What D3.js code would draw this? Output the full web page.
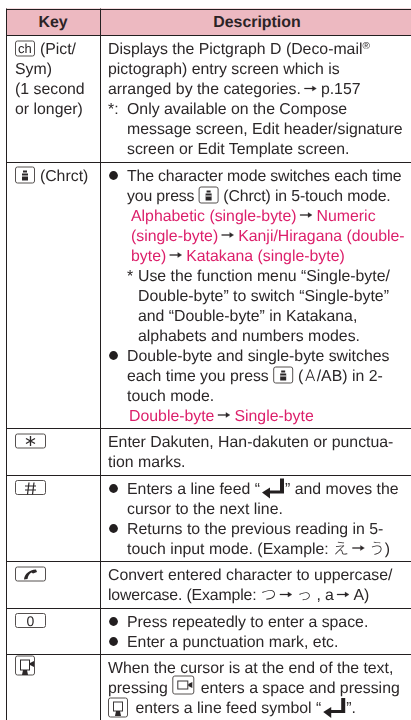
<!DOCTYPE html>
<html>
<head>
<meta charset="utf-8">
<title>Key table</title>
<script src="https://cdn.jsdelivr.net/npm/d3@7"></script>
<style>
    html, body { margin: 0; padding: 0; background: #fff; }
    svg { display: block; filter: blur(0.3px); }
    text { font-family: "Liberation Sans", Arial, sans-serif; font-size: 15.85px; fill: #2b2728; text-rendering: geometricPrecision; }
    .head { font-weight: bold; font-size: 15.9px; text-anchor: middle; fill: #2b2326; }
    .pink text { fill: #dc1f6a; }
    .tight text { letter-spacing: -0.15px; }
    .cjk { font-family: "Noto Sans CJK JP"; font-weight: 300; }
    .thin { font-family: Roboto; font-weight: 300; font-size: 16.5px; }
</style>
</head>
<body>
<div id="table"></div>
<script>
const headers = ['Key', 'Description'];

const keyLines = [
    ['{ch} (Pict/', 'Sym)', '(1 second', 'or longer)'],
    ['{soft} (Chrct)'],
    ['{star}'],
    ['{hash}'],
    ['{phone}'],
    ['{zero}'],
    ['{dpad}']
];

// each line is [kind, text]; the kind decides indent and colour
const descLines = [
    [
        ['plain', 'Displays the Pictgraph D (Deco-mail{reg}'],
        ['plain', 'pictograph) entry screen which is'],
        ['plain', 'arranged by the categories.{arrow}p.157'],
        ['star', 'Only available on the Compose'],
        ['cont', 'message screen, Edit header/signature'],
        ['cont', 'screen or Edit Template screen.']
    ],
    [
        ['bulletTight', 'The character mode switches each time'],
        ['contTight', 'you press {soft} (Chrct) in 5-touch mode.'],
        ['pink', 'Alphabetic (single-byte){arrow}Numeric'],
        ['pink', '(single-byte){arrow}Kanji/Hiragana (double-'],
        ['pink', 'byte){arrow}Katakana (single-byte)'],
        ['note', 'Use the function menu “Single-byte/'],
        ['noteCont', 'Double-byte” to switch “Single-byte”'],
        ['noteCont', 'and “Double-byte” in Katakana,'],
        ['noteCont', 'alphabets and numbers modes.'],
        ['bullet', 'Double-byte and single-byte switches'],
        ['cont', 'each time you press {soft} ({thinA}/AB) in 2-'],
        ['cont', 'touch mode.'],
        ['pink2', 'Double-byte{arrow}Single-byte']
    ],
    [
        ['plain', 'Enter Dakuten, Han-dakuten or punctua-'],
        ['plain', 'tion marks.']
    ],
    [
        ['bullet', 'Enters a line feed “{enter}” and moves the'],
        ['cont', 'cursor to the next line.'],
        ['bullet', 'Returns to the previous reading in 5-'],
        ['cont', 'touch input mode. (Example: {e}{arrow}{u})']
    ],
    [
        ['plain', 'Convert entered character to uppercase/'],
        ['plainTight', 'lowercase. (Example: {tsu}{arrow}{ltsu} , a{arrow}A)']
    ],
    [
        ['bullet', 'Press repeatedly to enter a space.'],
        ['bullet', 'Enter a punctuation mark, etc.']
    ],
    [
        ['plain', 'When the cursor is at the end of the text,'],
        ['plain', 'pressing {dright} enters a space and pressing'],
        ['plain', '{ddown} enters a line feed symbol “{enter}”.']
    ]
];

const width = 411;
const height = 720;
const lineStep = 20;
const headTop = 8.5;
const headHeight = 26.5;
const rowPad = 6.5;
const ink = '#2b2728';
const keyX = 15;
const descX = 108;

const kindStyle = {
    plain: { x: descX },
    plainTight: { x: descX, cls: 'tight' },
    cont: { x: 127 },
    contTight: { x: 127, cls: 'tight' },
    bullet: { x: 127, mark: 'dot' },
    bulletTight: { x: 127, mark: 'dot', cls: 'tight' },
    star: { x: 127, mark: '*:' },
    note: { x: 138, mark: '*' },
    noteCont: { x: 138 },
    pink: { x: 131, cls: 'pink' },
    pink2: { x: 129, cls: 'pink' }
};

const svg = d3.select('#table')
    .append('svg')
    .attr('width', width)
    .attr('height', height)
    .attr('viewBox', `0 0 ${width} ${height}`);

// Row tops follow from how many lines each row holds
let rowTop = headTop + headHeight;
const rows = descLines.map((lines, i) => {
    const row = { top: rowTop, key: keyLines[i], desc: lines };
    rowTop += lines.length * lineStep + rowPad;
    return row;
});

// Header band and labels
svg.append('rect')
    .attr('x', 6).attr('y', headTop)
    .attr('width', width - 6).attr('height', headHeight)
    .attr('fill', '#edb9c1');

svg.selectAll('.head')
    .data(headers)
    .join('text')
    .attr('class', 'head')
    .attr('x', (d, i) => i === 0 ? 53 : 257)
    .attr('y', 27)
    .text(d => d);

// Small drawn glyphs used inside text lines
function keyBox(g, w, top, bottom) {
    g.append('rect')
        .attr('x', 0.5).attr('y', top)
        .attr('width', w - 1).attr('height', bottom - top)
        .attr('rx', 2)
        .attr('fill', '#fff')
        .attr('stroke', '#55504f')
        .attr('stroke-width', 1);
}

function wideKey(g) {
    keyBox(g, 31, -13, 1);
}

const icons = {
    ch(g) {
        keyBox(g, 20, -13, 2);
        g.append('text').attr('x', 3).attr('y', -1)
            .style('font-size', '13px').text('ch');
        return 20.5;
    },
    soft(g) {
        keyBox(g, 20, -13.5, 2.5);
        g.append('rect').attr('x', 7).attr('y', -7).attr('width', 6).attr('height', 7).attr('fill', ink);
        g.append('rect').attr('x', 8).attr('y', -10).attr('width', 4).attr('height', 2).attr('fill', ink);
        g.append('rect').attr('x', 7).attr('y', -5).attr('width', 6).attr('height', 1).attr('fill', '#fff');
        return 20.5;
    },
    star(g) {
        wideKey(g);
        g.append('path')
            .attr('d', 'M15.5 -11 V-1 M11 -8.5 L20 -3.5 M20 -8.5 L11 -3.5')
            .attr('fill', 'none').attr('stroke', ink).attr('stroke-width', 1.3);
        return 31;
    },
    hash(g) {
        wideKey(g);
        g.append('path')
            .attr('d', 'M14 -11 L12.5 1 M19 -11 L17.5 1 M10 -7.5 H21 M10 -3.5 H21')
            .attr('fill', 'none').attr('stroke', ink).attr('stroke-width', 1.2);
        return 31;
    },
    phone(g) {
        wideKey(g);
        g.append('path')
            .attr('d', 'M9 -0.5 C9.5 -6 14 -10 21 -10.5 L22 -8 L18 -6.5 L16.5 -7.5 C14.5 -6.5 13 -4 12.5 -1 Z')
            .attr('fill', ink);
        return 31;
    },
    zero(g) {
        wideKey(g);
        g.append('text').attr('x', 15.5).attr('y', -1)
            .attr('text-anchor', 'middle').style('font-size', '14px').text('0');
        return 31;
    },
    dpad(g) {
        keyBox(g, 20, -17, 2);
        g.append('rect').attr('x', 5.5).attr('y', -13).attr('width', 9).attr('height', 10).attr('fill', '#fff').attr('stroke', ink);
        g.append('path').attr('d', 'M15 -10 L19 -12 V-6 L15 -8 Z').attr('fill', ink);
        g.append('path').attr('d', 'M8 -3 H12 L13 2 H7 Z').attr('fill', ink);
        return 20;
    },
    dright(g) {
        keyBox(g, 22, -17, 1);
        g.append('rect').attr('x', 5.5).attr('y', -12).attr('width', 10).attr('height', 8).attr('fill', '#fff').attr('stroke', '#3a3637');
        g.append('path').attr('d', 'M16 -9 L20 -11 V-5 L16 -7 Z').attr('fill', ink);
        return 24;
    },
    ddown(g) {
        keyBox(g, 20, -15, 4);
        g.append('rect').attr('x', 5.5).attr('y', -11).attr('width', 9).attr('height', 9).attr('fill', '#fff').attr('stroke', '#3a3637');
        g.append('path').attr('d', 'M8 -2 H12 L13 3 H7 Z').attr('fill', ink);
        return 23;
    },
    enter(g) {
        g.append('path')
            .attr('d', 'M24 -15 V0 H10 V5 L2 -1 L10 -6 V-3 H20 V-15 Z')
            .attr('fill', '#231f20');
        return 25;
    },
    arrow(g) {
        g.append('path')
            .attr('d', 'M3.5 -5.9 H11.5 V-8 L15.5 -5.5 L11.5 -3 V-5.1 H3.5 Z')
            .attr('fill', ink).attr('stroke', ink).attr('stroke-width', 0.3);
        return 20;
    },
    reg(g) {
        g.append('text').attr('y', -5).style('font-size', '10px').text('®');
        return 10;
    },
    thinA(g) {
        const t = g.append('text').attr('class', 'thin').attr('x', 1.5).text('A');
        return t.node().getComputedTextLength() + 3;
    }
};

const cjkGlyphs = { e: 'え', u: 'う', tsu: 'つ', ltsu: 'っ' };

// Lays a line out left to right: text runs are measured, icons report their width
function drawLine(g, str) {
    let x = 0;
    str.split(/(\{\w+\})/).filter(s => s).forEach(part => {
        const m = part.match(/^\{(\w+)\}$/);
        if (m && icons[m[1]]) {
            const holder = g.append('g').attr('transform', `translate(${x},0)`);
            x += icons[m[1]](holder);
            return;
        }
        const t = g.append('text').attr('x', x).attr('y', 0);
        if (m) {
            t.attr('class', 'cjk').text(cjkGlyphs[m[1]]);
        } else {
            t.style('white-space', 'pre').text(part);
        }
        x += t.node().getComputedTextLength();
    });
}

// Rows
const row = svg.selectAll('.row')
    .data(rows)
    .join('g')
    .attr('class', 'row')
    .attr('transform', d => `translate(0,${d.top})`);

row.each(function(d) {
    const g = d3.select(this);

    d.key.forEach((str, i) => {
        drawLine(g.append('g').attr('transform', `translate(${keyX},${19 + i * lineStep})`), str);
    });

    d.desc.forEach(([kind, str], i) => {
        const st = kindStyle[kind];
        const base = 19 + i * lineStep;
        const line = g.append('g')
            .attr('class', st.cls || null)
            .attr('transform', `translate(${st.x},${base})`);
        drawLine(line, str);
        if (st.mark === 'dot') {
            g.append('circle').attr('cx', 113.5).attr('cy', base - 5).attr('r', 4.4).attr('fill', '#231f20');
        } else if (st.mark) {
            g.append('text').attr('x', st.mark === '*' ? 127 : descX).attr('y', base).text(st.mark);
        }
    });
});

// Rules, drawn last so they sit on top of the band
const ruleYs = [headTop, headTop + headHeight].concat(rows.slice(1).map(d => d.top));

svg.selectAll('.rule')
    .data(ruleYs)
    .join('line')
    .attr('class', 'rule')
    .attr('x1', 6).attr('x2', width)
    .attr('y1', d => Math.round(d) + 0.5).attr('y2', d => Math.round(d) + 0.5)
    .attr('stroke', '#231f20');

svg.selectAll('.col')
    .data([6, 100])
    .join('line')
    .attr('class', 'col')
    .attr('x1', d => d + 0.5).attr('x2', d => d + 0.5)
    .attr('y1', headTop).attr('y2', height)
    .attr('stroke', '#231f20');
</script>
</body>
</html>
